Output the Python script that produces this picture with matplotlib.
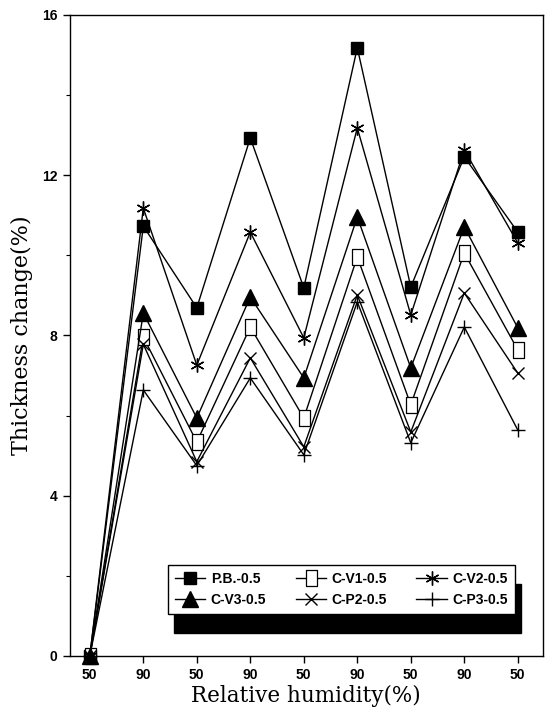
import matplotlib
matplotlib.use("Agg")
import matplotlib.pyplot as plt
from matplotlib.patches import Rectangle
from matplotlib.ticker import MultipleLocator

# Cycle positions and relative humidity labels
positions = list(range(9))
rh_labels = ["50", "90", "50", "90", "50", "90", "50", "90", "50"]

# Thickness change (%) per specimen
pb_05 = [0.0, 10.73, 8.69, 12.93, 9.19, 15.18, 9.21, 12.46, 10.58]
cv1_05 = [0.0, 7.96, 5.34, 8.21, 5.94, 9.96, 6.27, 10.06, 7.64]
cv2_05 = [0.0, 11.18, 7.26, 10.58, 7.94, 13.18, 8.51, 12.63, 10.31]
cv3_05 = [0.0, 8.56, 5.94, 8.96, 6.94, 10.96, 7.19, 10.71, 8.19]
cp2_05 = [0.0, 7.78, 4.85, 7.44, 5.22, 9.01, 5.59, 9.06, 7.06]
cp3_05 = [0.0, 6.64, 4.75, 6.94, 5.02, 8.84, 5.32, 8.21, 5.64]

series_names = ["P.B.-0.5", "C-V1-0.5", "C-V2-0.5", "C-V3-0.5", "C-P2-0.5", "C-P3-0.5"]

tall_rect = [(-0.36, -0.5), (0.36, -0.5), (0.36, 0.5), (-0.36, 0.5), (-0.36, -0.5)]

styles = {
    "P.B.-0.5": dict(marker="s", ms=9, mfc="black", mec="black"),
    "C-V1-0.5": dict(marker=tall_rect, ms=11, mfc="white", mec="black", mew=0.9),
    "C-V2-0.5": dict(marker=(6, 2, 0), ms=10, mfc="black", mec="black", mew=1.0),
    "C-V3-0.5": dict(marker="^", ms=11, mfc="black", mec="black"),
    "C-P2-0.5": dict(marker="x", ms=9, mfc="none", mec="black", mew=1.0),
    "C-P3-0.5": dict(marker="+", ms=10, mfc="none", mec="black", mew=1.0),
}
series_values = {
    "P.B.-0.5": pb_05, "C-V1-0.5": cv1_05, "C-V2-0.5": cv2_05,
    "C-V3-0.5": cv3_05, "C-P2-0.5": cp2_05, "C-P3-0.5": cp3_05,
}

fig = plt.figure(figsize=(5.54, 7.13), dpi=100)
ax = fig.add_axes([0.126, 0.080, 0.854, 0.899])

handles = {}
for name in series_names:
    h, = ax.plot(positions, series_values[name], color="black", lw=1.0,
                 label=name, clip_on=False, **styles[name])
    handles[name] = h

ax.set_xlim(-0.374, 8.47)
ax.set_ylim(0, 16)
ax.set_xticks(positions)
ax.set_xticklabels(rh_labels, fontfamily="Liberation Sans", fontweight="bold", fontsize=10)
ax.yaxis.set_major_locator(MultipleLocator(4))
ax.yaxis.set_minor_locator(MultipleLocator(2))
for lab in ax.get_yticklabels():
    lab.set_fontfamily("Liberation Sans")
    lab.set_fontweight("bold")
    lab.set_fontsize(10)
ax.tick_params(axis="both", which="major", direction="out", length=5, width=1, pad=4)
ax.tick_params(axis="y", which="minor", direction="out", length=3, width=0.8)
for sp in ax.spines.values():
    sp.set_linewidth(1.0)

ax.set_xlabel("Relative humidity(%)", fontfamily="DejaVu Serif", fontsize=15.5, labelpad=2)
ax.set_ylabel("Thickness change(%)", fontfamily="DejaVu Serif", fontsize=16, labelpad=6)

order = ["P.B.-0.5", "C-V3-0.5", "C-V1-0.5", "C-P2-0.5", "C-V2-0.5", "C-P3-0.5"]
leg = ax.legend([handles[n] for n in order], order, ncol=3,
                loc="lower left", bbox_to_anchor=(0.207, 0.0655, 0.734, 0.072),
                mode="expand", borderaxespad=0,
                prop=dict(family="Liberation Sans", weight="bold", size=10),
                handlelength=2.2, handletextpad=0.4, columnspacing=0.6,
                borderpad=0.5, labelspacing=0.5, fancybox=False, framealpha=1,
                edgecolor="black")
leg.get_frame().set_linewidth(1.0)
leg.set_zorder(10)

# Solid drop shadow under the legend box
fig.canvas.draw()
bb = leg.get_window_extent().transformed(fig.transFigure.inverted())
dx, dy = 6 / 554, 19 / 713
shadow = Rectangle((bb.x0 + dx, bb.y0 - dy), bb.width, bb.height,
                   transform=fig.transFigure, facecolor="black", edgecolor="black",
                   zorder=9)
ax.add_artist(shadow)
shadow.set_clip_on(False)

fig.savefig("out.png", dpi=100)
